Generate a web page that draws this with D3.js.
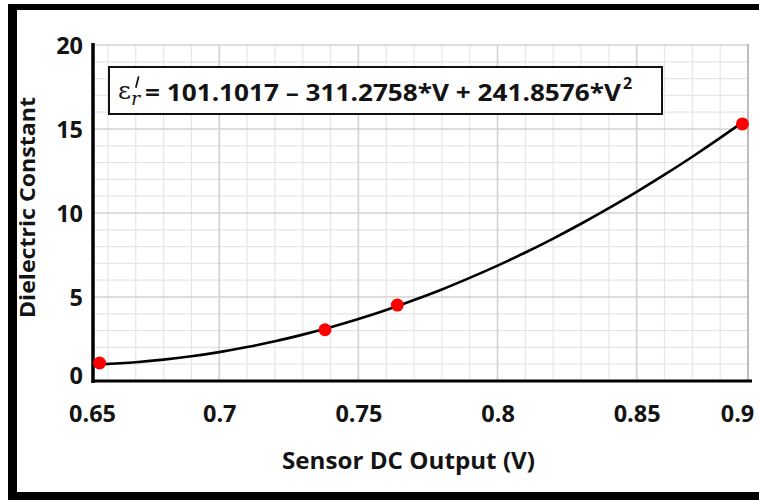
<!DOCTYPE html>
<html><head><meta charset="utf-8">
<script src="https://cdn.jsdelivr.net/npm/d3@7"></script>
<style>
body{margin:0;background:#fff}
svg{display:block}
text{font-family:"Open Sans",Lato,sans-serif;font-weight:700;fill:#141414}
</style>
</head><body>
<svg id="c" width="759" height="500"></svg>
<script>
// ---- data ----
const xDomain = [0.655, 0.89];
const yDomain = [0, 20];
const xTickValues = [0.65, 0.7, 0.75, 0.8, 0.85, 0.9];
const xTickLabels = ["0.65", "0.7", "0.75", "0.8", "0.85", "0.9"];
const yTickValues = [0, 5, 10, 15, 20];
const pointV = [0.657, 0.738, 0.764, 0.888];
const pointE = [1.07, 3.05, 4.52, 15.3];
const fitV = [0.657, 0.67, 0.68, 0.69, 0.70, 0.71, 0.72, 0.73, 0.74, 0.75, 0.76, 0.77, 0.78, 0.79, 0.80, 0.81, 0.82, 0.83, 0.84, 0.85, 0.86, 0.87, 0.88, 0.888];
const fitE = [0.99, 1.12, 1.27, 1.47, 1.72, 2.02, 2.36, 2.76, 3.20, 3.69, 4.23, 4.82, 5.45, 6.14, 6.87, 7.65, 8.48, 9.36, 10.29, 11.26, 12.28, 13.35, 14.47, 15.40];
const xLabel = "Sensor DC Output (V)";
const yLabel = "Dielectric Constant";
const eqMain = "= 101.1017 \u2013 311.2758*V + 241.8576*V";

// ---- layout ----
const svg = d3.select("#c");
const L = 94, R = 748, T = 45, B = 381;
const x = d3.scaleLinear().domain(xDomain).range([L, R]).clamp(true);
const y = d3.scaleLinear().domain(yDomain).range([B, T]);

function fit(sel, target) {
  const w = sel.node().getComputedTextLength();
  const fs = parseFloat(sel.style("font-size"));
  sel.style("font-size", (fs * target / w).toFixed(2) + "px");
}
function squeeze(sel, target) {
  sel.attr("textLength", target).attr("lengthAdjust", "spacingAndGlyphs");
}

// frame
svg.append("rect").attr("x", 8).attr("y", 4).attr("width", 751).attr("height", 6).attr("fill", "#000");
svg.append("rect").attr("x", 8).attr("y", 4).attr("width", 9).attr("height", 496).attr("fill", "#000");
svg.append("rect").attr("x", 8).attr("y", 492).attr("width", 751).attr("height", 8).attr("fill", "#000");

// grid
const g = svg.append("g");
const minorX = d3.range(0.66, 0.8851, 0.01).map(v => +v.toFixed(2));
const minorY = d3.range(1, 20, 1);
g.selectAll(".mx").data(minorX.filter(v => Math.round(v * 100) % 5 !== 0)).join("line")
  .attr("x1", d => x(d)).attr("x2", d => x(d)).attr("y1", T).attr("y2", B)
  .attr("stroke", "#e6e6e6").attr("stroke-width", 1.2);
g.selectAll(".my").data(minorY.filter(v => v % 5 !== 0)).join("line")
  .attr("x1", L).attr("x2", R).attr("y1", d => y(d)).attr("y2", d => y(d))
  .attr("stroke", "#e6e6e6").attr("stroke-width", 1.2);
g.selectAll(".Mx").data(xTickValues.filter(v => v > xDomain[0] && v < xDomain[1])).join("line")
  .attr("x1", d => x(d)).attr("x2", d => x(d)).attr("y1", T).attr("y2", B)
  .attr("stroke", "#d2d2d2").attr("stroke-width", 1.6);
g.selectAll(".My").data(yTickValues.filter(v => v > 0)).join("line")
  .attr("x1", L).attr("x2", R).attr("y1", d => y(d)).attr("y2", d => y(d))
  .attr("stroke", "#d2d2d2").attr("stroke-width", 1.6);
svg.append("line").attr("x1", R).attr("x2", R).attr("y1", T - 1).attr("y2", B)
  .attr("stroke", "#bdbdbd").attr("stroke-width", 2);

// equation box
const box = svg.append("g");
box.append("rect").attr("x", 109).attr("y", 67).attr("width", 553).attr("height", 47)
  .attr("fill", "#fff").attr("stroke", "#111").attr("stroke-width", 2);
box.append("text").attr("x", 118).attr("y", 99)
  .style("font-family", "'DejaVu Serif',serif").style("font-weight", "400").style("font-size", "25px").text("\u03B5");
box.append("text").attr("x", 131).attr("y", 105)
  .style("font-family", "'DejaVu Serif',serif").style("font-style", "italic").style("font-weight", "400").style("font-size", "19px").text("r");
// prime drawn as a short stroke
box.append("line").attr("x1", 138.5).attr("y1", 77).attr("x2", 136).attr("y2", 87)
  .attr("stroke", "#141414").attr("stroke-width", 1.8).attr("stroke-linecap", "round");
const eqBody = box.append("text").attr("x", 145).attr("y", 101).style("font-size", "23.5px").text(eqMain);
squeeze(eqBody, 476);
box.append("text").attr("x", 623).attr("y", 89).style("font-size", "16px").text("2");

// axes (labels)
const xAxis = d3.axisBottom(x).tickValues(xTickValues).tickFormat((d, i) => xTickLabels[i]).tickSize(0).tickPadding(0);
const gx = svg.append("g").attr("transform", `translate(0,${B})`).call(xAxis);
gx.select(".domain").remove();
gx.selectAll("text").attr("y", 41).attr("dy", 0).style("font-size", "22px").style("font-family", "'Open Sans',Lato,sans-serif").style("font-weight", "700").attr("fill", "#141414");
fit(gx.selectAll("text").filter((d, i) => i === 0), 47);
const tickFs = gx.selectAll("text").filter((d, i) => i === 0).style("font-size");
gx.selectAll("text").style("font-size", tickFs);
gx.selectAll("text").filter((d, i) => i === 0).attr("dx", -2);
gx.selectAll("text").filter((d, i) => i === xTickValues.length - 1).attr("dx", -11);

const yAxis = d3.axisLeft(y).tickValues(yTickValues).tickSize(0).tickPadding(10);
const gy = svg.append("g").attr("transform", `translate(${L - 1},0)`).call(yAxis);
gy.select(".domain").remove();
gy.selectAll("text").attr("dy", "0.35em").style("font-size", tickFs).style("font-family", "'Open Sans',Lato,sans-serif").style("font-weight", "700").attr("fill", "#141414");
gy.selectAll("text").filter(d => d === 0).attr("dy", "0.12em");

// axis lines
svg.append("line").attr("x1", L - 1).attr("x2", L - 1).attr("y1", T - 2).attr("y2", B + 2).attr("stroke", "#000").attr("stroke-width", 3.5);
svg.append("line").attr("x1", L - 2.5).attr("x2", R + 4).attr("y1", B).attr("y2", B).attr("stroke", "#000").attr("stroke-width", 3);

// fit curve
const line = d3.line().x(d => x(d[0])).y(d => y(d[1])).curve(d3.curveMonotoneX);
svg.append("path").datum(fitV.map((v, i) => [v, fitE[i]])).attr("d", line)
  .attr("fill", "none").attr("stroke", "#000").attr("stroke-width", 2.6);

// points
svg.selectAll(".pt").data(pointV.map((v, i) => [v, pointE[i]])).join("circle")
  .attr("cx", d => x(d[0])).attr("cy", d => y(d[1])).attr("r", 6.5).attr("fill", "#ff0000");

// axis titles
const xt = svg.append("text").attr("x", 282).attr("y", 469).style("font-size", "23px").text(xLabel);
squeeze(xt, 253);
const yt = svg.append("text").attr("transform", "translate(35,318) rotate(-90)").style("font-size", "22px").text(yLabel);
squeeze(yt, 221);
</script>
</body></html>
